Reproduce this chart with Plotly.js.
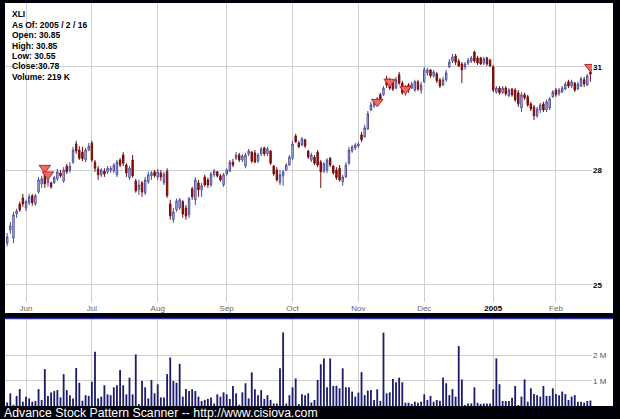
<!DOCTYPE html>
<html><head><meta charset="utf-8">
<script src="https://cdn.plot.ly/plotly-3.0.1.min.js"></script>
<style>html,body{margin:0;padding:0;background:#000;}#chart{width:620px;height:419px;}</style>
</head><body><div id="chart"></div>
<script>
// ---------- DATA ----------
const symbol = 'XLI';
const startDate = '2004-05-21';
const endDate = '2005-02-16';
const marketHolidays = ['2004-05-31','2004-06-11','2004-07-05','2004-09-06','2004-11-25','2004-12-24','2005-01-17'];

const opens = [26.05,26.39,26.18,26.81,27.08,27.24,26.97,27.11,27.30,27.08,27.40,27.62,27.95,27.65,27.65,27.65,27.76,27.92,27.70,28.11,
28.00,28.22,28.73,28.56,28.50,28.28,28.56,28.76,28.22,28.03,27.87,27.97,27.95,28.00,27.97,27.87,28.28,28.42,28.14,27.79,
28.28,27.70,27.46,27.65,27.38,27.68,27.84,27.95,27.81,27.92,27.65,27.97,27.08,26.66,26.92,26.97,27.14,26.97,26.79,27.49,
27.19,27.65,27.46,27.81,27.73,27.59,27.87,27.95,27.84,27.59,27.89,27.97,28.22,28.33,28.42,28.28,28.11,28.45,28.50,28.48,
28.25,28.45,28.62,28.45,28.53,28.11,28.00,27.65,27.84,28.00,28.14,28.33,28.96,28.76,28.70,28.85,28.53,28.28,28.36,28.50,
28.22,27.97,28.00,28.33,28.11,28.00,28.05,27.68,27.81,28.19,28.53,28.62,28.67,28.99,28.93,29.16,29.71,29.83,29.95,30.16,
30.16,30.64,30.55,30.55,30.36,30.76,30.51,30.24,30.45,30.36,30.30,30.55,30.30,30.55,30.82,30.91,30.73,30.79,30.61,30.45,
30.61,31.00,31.18,31.34,31.18,31.09,31.00,31.12,31.18,31.46,31.28,31.28,31.12,31.28,31.21,31.00,30.24,30.36,30.22,30.36,
30.13,30.33,30.30,30.22,29.77,30.16,30.10,29.89,29.80,29.54,29.71,29.89,29.71,29.77,30.10,30.30,30.19,30.24,30.33,30.55,
30.42,30.51,30.33,30.42,30.61,30.45,30.85];
const highs = [26.31,26.60,26.87,26.95,27.14,27.35,27.19,27.35,27.35,27.35,27.81,27.84,28.08,27.92,27.68,27.84,28.03,28.00,28.08,28.17,
28.22,28.65,28.82,28.67,28.65,28.62,28.76,28.82,28.28,28.11,28.05,28.05,28.11,28.11,28.19,28.28,28.33,28.50,28.19,28.11,
28.42,27.76,27.73,27.70,27.81,27.95,27.97,28.00,28.03,28.00,27.95,28.05,27.19,26.97,27.22,27.24,27.19,27.05,27.27,27.54,
27.81,27.73,27.65,27.87,27.79,27.95,28.03,27.97,27.89,27.92,28.05,28.28,28.31,28.50,28.48,28.45,28.48,28.59,28.53,28.56,
28.48,28.65,28.65,28.65,28.56,28.14,28.08,28.00,28.00,28.19,28.42,28.82,29.02,28.82,28.93,28.88,28.56,28.48,28.42,28.56,
28.28,28.22,28.33,28.36,28.14,28.08,28.14,27.87,28.22,28.65,28.70,28.76,28.79,29.07,29.28,29.68,29.95,30.01,30.10,30.22,
30.42,30.73,30.67,30.61,30.70,30.85,30.58,30.45,30.51,30.55,30.61,30.61,30.55,31.00,30.97,30.94,30.91,30.85,30.67,30.70,
30.91,31.25,31.40,31.40,31.25,31.15,31.15,31.28,31.34,31.50,31.34,31.31,31.31,31.31,31.25,31.06,30.42,30.42,30.42,30.42,
30.36,30.36,30.36,30.30,30.24,30.22,30.16,29.95,29.86,29.80,29.92,29.95,30.01,30.10,30.30,30.36,30.36,30.42,30.55,30.61,
30.61,30.55,30.55,30.70,30.70,30.79,30.85];
const lows = [25.97,26.29,26.05,26.71,26.87,27.00,26.89,27.05,27.03,27.03,27.35,27.51,27.51,27.54,27.49,27.62,27.70,27.79,27.65,27.89,
27.92,28.17,28.45,28.28,28.25,28.22,28.53,28.22,27.95,27.73,27.81,27.81,27.89,27.92,27.92,27.81,28.08,28.11,27.81,27.73,
27.79,27.38,27.32,27.27,27.32,27.62,27.73,27.79,27.73,27.70,27.59,27.24,26.66,26.58,26.87,26.92,26.71,26.66,26.71,27.19,
27.05,27.27,27.27,27.54,27.51,27.54,27.81,27.79,27.68,27.54,27.84,27.95,28.08,28.28,28.22,28.22,28.05,28.39,28.19,28.19,
28.19,28.39,28.39,28.39,28.14,27.84,27.68,27.59,27.57,27.97,28.11,28.28,28.76,28.62,28.67,28.62,28.31,28.22,28.14,28.08,
27.51,27.92,27.92,28.08,27.87,27.73,27.68,27.57,27.79,28.14,28.48,28.56,28.62,28.79,28.91,29.13,29.68,29.77,29.89,29.92,
30.13,30.36,30.30,30.27,30.33,30.45,30.16,30.13,30.22,30.33,30.24,30.27,30.19,30.51,30.73,30.67,30.67,30.51,30.36,30.42,
30.55,30.97,31.12,31.06,31.00,30.51,30.91,31.06,31.12,31.12,31.06,31.06,31.06,31.03,31.00,30.24,30.19,30.16,30.19,30.13,
30.10,30.10,29.95,29.80,29.65,30.01,29.80,29.68,29.42,29.48,29.62,29.65,29.65,29.71,30.07,30.10,30.13,30.22,30.30,30.36,
30.36,30.24,30.30,30.39,30.39,30.42,30.55];
const closes = [26.21,26.50,26.79,26.89,26.92,27.08,27.14,27.27,27.11,27.30,27.73,27.76,27.62,27.84,27.54,27.79,27.95,27.84,28.00,27.95,
28.11,28.56,28.53,28.33,28.31,28.56,28.67,28.28,28.05,27.87,28.00,27.89,28.05,28.05,28.14,28.22,28.14,28.19,27.92,28.05,
27.84,27.43,27.59,27.40,27.73,27.87,27.92,27.84,27.95,27.81,27.89,27.30,26.76,26.87,27.16,27.19,26.81,26.76,27.22,27.27,
27.73,27.46,27.57,27.59,27.59,27.89,27.97,27.84,27.73,27.87,28.00,28.22,28.14,28.42,28.28,28.39,28.42,28.53,28.25,28.22,
28.42,28.59,28.45,28.59,28.19,27.89,27.73,27.87,27.95,28.14,28.36,28.73,28.79,28.65,28.88,28.67,28.36,28.42,28.19,28.14,
27.95,28.17,28.28,28.14,27.92,27.79,27.73,27.81,28.14,28.56,28.65,28.70,28.73,28.85,29.19,29.60,29.86,29.95,30.04,29.98,
30.36,30.45,30.36,30.33,30.61,30.51,30.22,30.39,30.30,30.48,30.55,30.33,30.45,30.91,30.91,30.73,30.85,30.58,30.42,30.61,
30.82,31.15,31.31,31.15,31.03,30.91,31.09,31.21,31.28,31.18,31.12,31.09,31.25,31.09,31.03,30.30,30.36,30.22,30.36,30.19,
30.30,30.16,30.01,29.89,30.16,30.07,29.86,29.74,29.54,29.74,29.86,29.71,29.95,30.04,30.24,30.16,30.30,30.36,30.48,30.42,
30.55,30.30,30.48,30.64,30.48,30.73,30.78];
// daily volume, millions of shares
const volumeM = [0.14,0.50,0.05,0.40,0.67,0.17,0.37,0.30,0.17,0.20,0.67,0.24,1.46,0.40,0.53,0.59,0.63,0.34,1.26,0.63,
0.43,0.30,1.50,0.92,0.21,0.43,0.40,0.96,2.15,0.30,0.37,0.82,0.46,0.43,0.74,0.82,1.42,0.82,0.46,1.12,
0.46,2.04,0.08,0.99,0.74,0.30,1.03,0.50,0.86,0.34,0.34,1.26,1.92,0.99,0.92,1.67,0.37,0.67,0.59,0.66,
0.59,0.37,0.20,0.24,0.28,0.34,0.10,0.46,0.37,0.54,0.46,0.28,0.79,0.50,0.05,0.54,0.90,0.30,1.33,0.66,
0.43,0.63,0.28,0.43,0.24,0.10,0.10,1.49,2.91,0.10,0.43,0.74,1.09,0.08,0.46,0.43,0.50,0.14,0.24,1.03,
1.65,1.88,0.74,1.88,0.79,0.80,0.70,1.49,0.74,0.74,0.57,0.37,0.53,1.34,0.43,0.61,0.63,0.24,0.66,0.20,
2.90,0.50,0.54,1.07,0.94,1.12,0.94,0.13,0.13,0.08,0.17,0.13,0.17,0.46,0.24,0.40,0.17,0.24,0.21,1.13,
0.90,0.43,0.67,0.37,2.37,1.05,0.04,0.10,0.10,0.74,0.13,0.08,0.10,0.10,0.10,0.66,1.88,0.86,0.20,0.20,
0.20,0.33,0.79,0.04,0.37,1.05,0.17,0.70,0.47,0.43,0.37,0.79,0.40,0.40,0.70,0.47,0.43,0.57,0.47,0.24,
0.37,0.43,0.17,0.17,0.13,0.20,0.219];
// pattern signals (trading-day index, price)
const signalIdx = [12, 13, 118, 122, 127, 186];
const signalPrice = [28.06, 27.88, 29.95, 30.55, 30.33, 31.00];
const monthLabels = ['Jun','Jul','Aug','Sep','Oct','Nov','Dec','<b style="color:#000">2005</b>','Feb'];
const priceTicks = [25, 28, 31];
const volTicks = [1, 2];
const volTickText = ['1 M', '2 M'];
const infoLines = ['XLI','As Of: 2005 / 2 / 16','Open: 30.85','High: 30.85','Low: 30.55','Close:30.78','Volume: 219 K'];
const footer = 'Advance Stock Pattern Scanner -- http://www.cisiova.com';

// ---------- trading calendar ----------
function tradingDays(s, e, hol) {
  const out = [];
  let d = new Date(s + 'T00:00:00Z');
  const end = new Date(e + 'T00:00:00Z');
  while (d <= end) {
    const iso = d.toISOString().slice(0, 10);
    const wd = d.getUTCDay();
    if (wd !== 0 && wd !== 6 && hol.indexOf(iso) < 0) out.push(iso);
    d = new Date(d.getTime() + 86400000);
  }
  return out;
}
const dates = tradingDays(startDate, endDate, marketHolidays);
const monthTicks = [];
for (let i = 1; i < dates.length; i++) {
  if (dates[i].slice(5, 7) !== dates[i - 1].slice(5, 7)) monthTicks.push(dates[i]);
}

// ---------- layout helpers (pixel -> paper) ----------
const PL = 5, PR = 592, PT = 3, PB = 406;
const px = v => (v - PL) / (PR - PL);
const py = v => (PB - v) / (PB - PT);
const FONT = 'Liberation Sans, Arial, sans-serif';

const traces = [
  {
    type: 'candlestick', x: dates, open: opens, high: highs, low: lows, close: closes,
    xaxis: 'x', yaxis: 'y', showlegend: false, hoverinfo: 'skip',
    increasing: {line: {color: '#4c4c98', width: 1}, fillcolor: '#dcdcf4'},
    decreasing: {line: {color: '#7a0c0c', width: 1}, fillcolor: '#8c1414'},
    whiskerwidth: 0
  },
  {
    type: 'scatter', mode: 'markers', x: signalIdx.map(i => dates[i]), y: signalPrice,
    xaxis: 'x', yaxis: 'y', showlegend: false, hoverinfo: 'skip',
    marker: {symbol: 'triangle-down', size: 10, color: '#f06868', line: {color: '#b82828', width: 1}}
  },
  {
    type: 'bar', x: dates, y: volumeM, xaxis: 'x2', yaxis: 'y2', showlegend: false, hoverinfo: 'skip',
    marker: {color: '#1c1c6c', line: {width: 0}}
  }
];

const annotations = infoLines.map((t, k) => ({
  xref: 'paper', yref: 'paper', x: px(10), y: py(14.2 + k * 10.45),
  xanchor: 'left', yanchor: 'middle', showarrow: false, text: '<b>' + t + '</b>',
  font: {family: FONT, size: 8.5, color: '#000'}
}));
annotations.push({
  xref: 'paper', yref: 'paper', x: px(2), y: py(412.5), xanchor: 'left', yanchor: 'middle',
  showarrow: false, text: footer, font: {family: FONT, size: 12.3, color: '#fff'}
});

const gridCol = '#cfcfcf';
const layout = {
  width: 620, height: 419,
  margin: {l: PL, r: 620 - PR, t: PT, b: 419 - PB, pad: 0},
  paper_bgcolor: '#00000a', plot_bgcolor: '#ffffff',
  showlegend: false, dragmode: false, hovermode: false,
  boxgap: 0.35, bargap: 0.42,
  xaxis: {
    type: 'category', domain: [0, 1], anchor: 'y', range: [-0.7, dates.length - 0.5],
    tickmode: 'array', tickvals: monthTicks, ticktext: monthLabels, ticks: '',
    showgrid: true, gridcolor: gridCol, gridwidth: 1, zeroline: false, showline: false,
    tickfont: {family: FONT, size: 8, color: '#666'}, rangeslider: {visible: false}, fixedrange: true
  },
  xaxis2: {
    type: 'category', domain: [0, 1], anchor: 'y2', range: [-0.7, dates.length - 0.5],
    tickmode: 'array', tickvals: monthTicks, showticklabels: false, ticks: '',
    showgrid: true, gridcolor: gridCol, gridwidth: 1, zeroline: false, showline: false, fixedrange: true
  },
  yaxis: {
    type: 'log', domain: [py(302), 1], anchor: 'x', side: 'right',
    range: [Math.log10(24.58), Math.log10(33.02)],
    tickmode: 'array', tickvals: priceTicks, ticktext: priceTicks.map(v => '<b>' + v + '</b>'), ticks: '',
    showgrid: true, gridcolor: gridCol, gridwidth: 1, zeroline: false, showline: false,
    tickfont: {family: FONT, size: 8, color: '#000'}, fixedrange: true
  },
  yaxis2: {
    domain: [0, py(319)], anchor: 'x2', side: 'right', range: [0, 3.44],
    tickmode: 'array', tickvals: volTicks, ticktext: volTickText, ticks: '',
    showgrid: true, gridcolor: gridCol, gridwidth: 1, zeroline: false, showline: false,
    tickfont: {family: FONT, size: 8, color: '#555'}, fixedrange: true
  },
  shapes: [
    {type: 'rect', xref: 'paper', yref: 'paper', layer: 'below', x0: px(5), x1: px(613), y0: py(313), y1: py(3),
     fillcolor: '#ffffff', line: {width: 0}},
    {type: 'rect', xref: 'paper', yref: 'paper', layer: 'below', x0: px(5), x1: px(613), y0: py(406), y1: py(319),
     fillcolor: '#ffffff', line: {width: 0}},
    {type: 'line', xref: 'paper', yref: 'paper', layer: 'above', x0: px(5), x1: px(613), y0: py(318.5), y1: py(318.5),
     line: {color: '#2c2ca4', width: 1.5}}
  ],
  annotations: annotations
};

Plotly.newPlot('chart', traces, layout, {staticPlot: true, displayModeBar: false});
</script></body></html>
